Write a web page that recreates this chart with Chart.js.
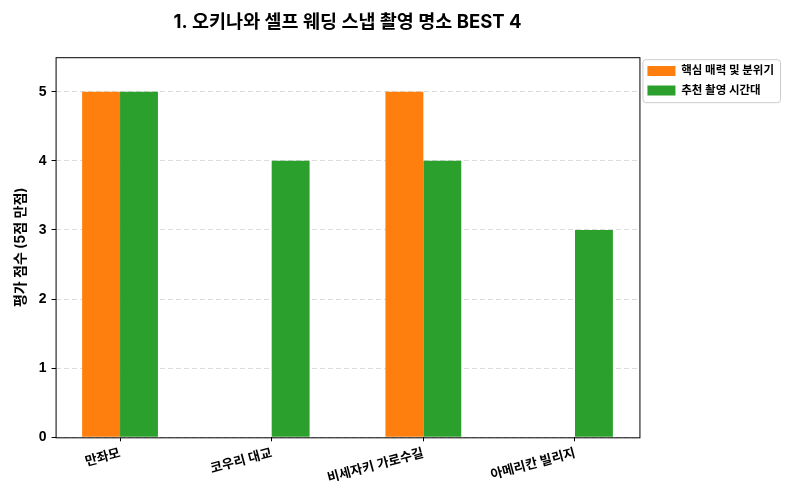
<!DOCTYPE html>
<html>
<head>
<meta charset="utf-8">
<script src="https://cdn.jsdelivr.net/npm/chart.js@4.4.0/dist/chart.umd.min.js"></script>
<style>
  html, body { margin: 0; padding: 0; background: #fff; }
  #wrap { width: 800px; height: 500px; }
</style>
</head>
<body>
<div id="wrap"><canvas id="PlotCanvas"></canvas></div>
<script>
// data
var places = ['만좌모', '코우리 대교', '비세자키 가로수길', '아메리칸 빌리지'];
var charmScores = [5, 0, 5, 0];
var timeScores = [5, 4, 4, 3];
var yTicks = [0, 1, 2, 3, 4, 5];

var KR = "Inter, 'Noto Sans CJK KR', sans-serif";

// frame round the plot and round the legend, like matplotlib spines
var framePlugin = {
    id: 'frame',
    afterDraw: function (chart) {
        var ctx = chart.ctx;
        var a = chart.chartArea;
        ctx.save();
        ctx.strokeStyle = '#000';
        ctx.lineWidth = 1;
        ctx.setLineDash([]);
        ctx.strokeRect(a.left + 0.5, a.top + 0.5, a.right - a.left, a.bottom - a.top);
        var boxes = chart.legend.legendHitBoxes;
        if (boxes && boxes.length) {
            var l = Math.min.apply(null, boxes.map(b => b.left)) - 5;
            var t = Math.min.apply(null, boxes.map(b => b.top)) - 6;
            var r = Math.max.apply(null, boxes.map(b => b.left + b.width)) + 6;
            var bt = Math.max.apply(null, boxes.map(b => b.top + b.height)) + 6;
            ctx.strokeStyle = '#cccccc';
            ctx.beginPath();
            ctx.roundRect(l + 0.5, t + 0.5, r - l, bt - t, 3);
            ctx.stroke();
        }
        ctx.restore();
    }
};

var ctx = document.getElementById('PlotCanvas').getContext('2d');
var data = {
    datasets: [{
        label: '핵심 매력 및 분위기',
        backgroundColor: '#ff7f0e',
        data: charmScores.map((v, i) => ({ x: i, y: v }))
    }, {
        label: '추천 촬영 시간대',
        backgroundColor: '#2ca02c',
        data: timeScores.map((v, i) => ({ x: i, y: v }))
    }]
};
var options = {
    responsive: true,
    maintainAspectRatio: false,
    animation: false,
    categoryPercentage: 0.5,
    barPercentage: 1.0,
    layout: { padding: { left: 12, right: 16, top: 0, bottom: 10 } },
    plugins: {
        title: {
            display: true,
            text: '1. 오키나와 셀프 웨딩 스냅 촬영 명소 BEST 4',
            fullSize: false,
            color: '#000',
            font: { family: KR, size: 18.5, weight: 'bold' },
            padding: { top: 11, bottom: 24 }
        },
        legend: {
            position: 'right',
            align: 'start',
            fullSize: false,
            labels: {
                color: '#000',
                boxWidth: 28,
                boxHeight: 10,
                padding: 8,
                font: { family: KR, size: 11.5, weight: 'bold' }
            }
        },
        tooltip: { enabled: false }
    },
    scales: {
        x: {
            type: 'linear',
            position: 'bottom',
            offset: false,
            min: -0.425,
            max: 3.425,
            afterBuildTicks: function (scale) {
                scale.ticks = places.map((p, i) => ({ value: i }));
            },
            grid: { offset: false, drawOnChartArea: false, drawTicks: true, tickLength: 4, tickColor: '#000' },
            border: { display: false },
            ticks: {
                color: '#000',
                autoSkip: false,
                minRotation: 15,
                maxRotation: 15,
                padding: 4,
                font: { family: KR, size: 13, weight: '600' },
                callback: function (value) { return places[value]; }
            }
        },
        y: {
            type: 'linear',
            position: 'left',
            min: 0,
            max: 5.5,
            afterBuildTicks: function (scale) {
                scale.ticks = yTicks.map(v => ({ value: v }));
            },
            grid: { color: '#dcdcdc', drawTicks: true, tickLength: 4, tickColor: '#000', tickBorderDash: [] },
            border: { display: false, dash: [5, 3] },
            title: {
                display: true,
                text: '평가 점수 (5점 만점)',
                color: '#000',
                font: { family: KR, size: 14, weight: 'bold' },
                padding: { top: 0, bottom: 5 }
            },
            ticks: {
                color: '#000',
                padding: 5,
                font: { family: "'Liberation Sans', Arial, sans-serif", size: 14, weight: 'bold' }
            }
        }
    }
};
var currentChart = new Chart(ctx, {
    type: 'bar',
    data: data,
    options: options,
    plugins: [framePlugin]
});
</script>
</body>
</html>
